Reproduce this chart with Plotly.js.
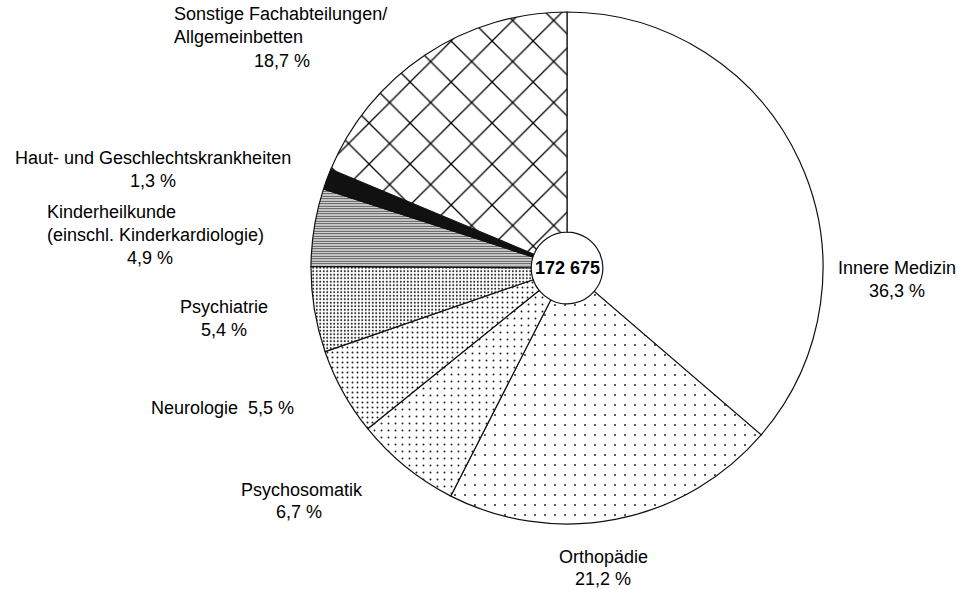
<!DOCTYPE html>
<html>
<head>
<meta charset="utf-8">
<script src="https://cdn.plot.ly/plotly-3.0.1.min.js"></script>
<style>html,body{margin:0;padding:0;background:#fff;}#chart{width:975px;height:589px;}</style>
</head>
<body>
<div id="chart"></div>
<script>
// Data
const categories = ["Innere Medizin", "Orthopädie", "Psychosomatik", "Neurologie", "Psychiatrie",
  "Kinderheilkunde (einschl. Kinderkardiologie)", "Haut- und Geschlechtskrankheiten",
  "Sonstige Fachabteilungen/ Allgemeinbetten"];
const shares = [36.3, 21.2, 6.7, 5.5, 5.4, 4.9, 1.3, 18.7];
const total = "172 675";

// Label layout (display text split + pixel positions)
const nameText = ["Innere Medizin", "Orthopädie", "Psychosomatik", "Neurologie", "Psychiatrie",
  "Kinderheilkunde<br>(einschl. Kinderkardiologie)", "Haut- und Geschlechtskrankheiten",
  "Sonstige Fachabteilungen/<br>Allgemeinbetten"];
// [x, y, xanchor, align] for name ; [x, y] for percentage (null = inline)
const namePos = [[897,268,'center','center'],[603,557,'center','center'],[302,490,'center','center'],
  [222,408,'center','center'],[224,307,'center','center'],[45,223,'left','left'],
  [153,158,'center','center'],[172,25,'left','left']];
const pctPos = [[897,291],[603,579],[299,512],null,[224,330],[150,258],[153,181],[282,61]];

// Pie geometry (pixels)
const W = 975, H = 589, CX = 567, CY = 268, R = 256;
const L = CX - R, T = CY - R;
const px = x => (x - L) / (2 * R);
const py = y => 1 - (y - T) / (2 * R);
const fmt = v => v.toFixed(1).replace('.', ',') + ' %';

const font = {family: '"Liberation Sans", Arial, Helvetica, sans-serif', size: 18, color: '#000'};

const trace = {
  type: 'pie',
  labels: categories,
  values: shares,
  sort: false,
  direction: 'clockwise',
  rotation: 0,
  hole: 0.14,
  textinfo: 'none',
  hoverinfo: 'label+percent',
  showlegend: false,
  marker: {
    colors: ['#ffffff', '#ffffff', '#ffffff', '#ffffff', '#ffffff', '#ffffff', '#111111', '#ffffff'],
    line: {color: '#111', width: 1.2},
    pattern: {
      shape: ['', '.', '.', '.', '.', '-', '', 'x'],
      size: [10, 10, 7, 5, 3.5, 2.5, 8, 29],
      solidity: [0.1, 0.03, 0.06, 0.12, 0.25, 0.5, 0.1, 0.09],
      fgcolor: ['#111', '#222', '#222', '#222', '#222', '#444', '#111', '#000'],
      bgcolor: ['#fff', '#fff', '#fff', '#fff', '#fff', '#fff', '#111', '#fff'],
      fillmode: 'replace'
    }
  }
};

const annotations = [];
for (let i = 0; i < categories.length; i++) {
  const np = namePos[i];
  const txt = pctPos[i] ? nameText[i] : nameText[i] + '&nbsp;&nbsp;' + fmt(shares[i]);
  annotations.push({xref: 'paper', yref: 'paper', x: px(np[0]), y: py(np[1]),
    xanchor: np[2], yanchor: 'middle', align: np[3], text: txt, showarrow: false, font: font});
  if (pctPos[i]) {
    annotations.push({xref: 'paper', yref: 'paper', x: px(pctPos[i][0]), y: py(pctPos[i][1]),
      xanchor: 'center', yanchor: 'middle', text: fmt(shares[i]), showarrow: false, font: font});
  }
}
annotations.push({xref: 'paper', yref: 'paper', x: 0.5, y: 0.5, xanchor: 'center', yanchor: 'middle',
  text: '<b>' + total + '</b>', showarrow: false,
  font: {family: font.family, size: 18, color: '#000'}});

const layout = {
  width: W, height: H,
  margin: {l: L, r: W - (CX + R), t: T, b: H - (CY + R), pad: 0},
  paper_bgcolor: '#fff', plot_bgcolor: '#fff',
  annotations: annotations
};

Plotly.newPlot('chart', [trace], layout, {displayModeBar: false, staticPlot: true});
</script>
</body>
</html>
